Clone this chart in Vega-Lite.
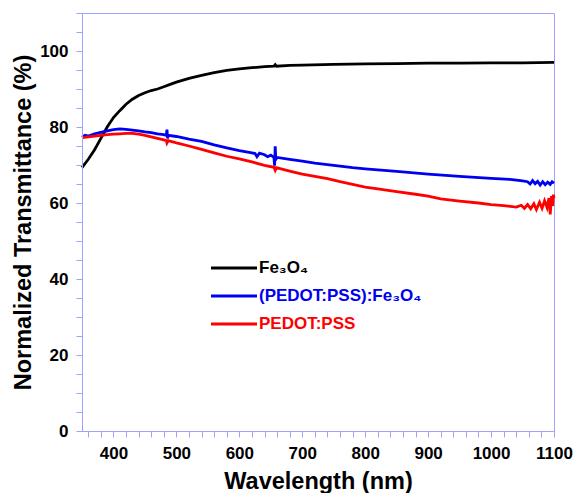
{
  "$schema": "https://vega.github.io/schema/vega-lite/v6.json",
  "width": 472,
  "height": 418,
  "autosize": {"type": "none"},
  "padding": {"left": 82, "top": 13, "right": 21, "bottom": 62},
  "config": {
    "font": "Liberation Sans",
    "view": {"stroke": "#a0a0ff", "strokeWidth": 1},
    "axis": {
      "domainColor": "#a0a0ff",
      "tickColor": "#a0a0ff",
      "grid": false,
      "labelFontWeight": "bold",
      "labelFontSize": 17,
      "labelColor": "#000000",
      "titleFontWeight": "bold",
      "titleFontSize": 23.5,
      "titleColor": "#000000",
      "labelOverlap": false,
      "labelFlush": false
    }
  },
  "data": {"values": [
    {"s":"Fe₃O₄","w":350,"t":69.3},{"s":"Fe₃O₄","w":360,"t":71.5},{"s":"Fe₃O₄","w":370,"t":74},{"s":"Fe₃O₄","w":380,"t":77},{"s":"Fe₃O₄","w":390,"t":80},{"s":"Fe₃O₄","w":400,"t":82.5},{"s":"Fe₃O₄","w":410,"t":84.3},{"s":"Fe₃O₄","w":420,"t":86},{"s":"Fe₃O₄","w":430,"t":87.3},{"s":"Fe₃O₄","w":440,"t":88.3},{"s":"Fe₃O₄","w":450,"t":89},{"s":"Fe₃O₄","w":460,"t":89.6},{"s":"Fe₃O₄","w":470,"t":90},{"s":"Fe₃O₄","w":480,"t":90.6},{"s":"Fe₃O₄","w":490,"t":91.2},{"s":"Fe₃O₄","w":500,"t":91.8},{"s":"Fe₃O₄","w":520,"t":92.8},{"s":"Fe₃O₄","w":540,"t":93.6},{"s":"Fe₃O₄","w":560,"t":94.3},{"s":"Fe₃O₄","w":580,"t":94.9},{"s":"Fe₃O₄","w":600,"t":95.3},{"s":"Fe₃O₄","w":620,"t":95.6},{"s":"Fe₃O₄","w":640,"t":95.9},{"s":"Fe₃O₄","w":655,"t":96.0},{"s":"Fe₃O₄","w":657,"t":96.4},{"s":"Fe₃O₄","w":659,"t":96.0},{"s":"Fe₃O₄","w":680,"t":96.2},{"s":"Fe₃O₄","w":700,"t":96.3},{"s":"Fe₃O₄","w":750,"t":96.5},{"s":"Fe₃O₄","w":800,"t":96.6},{"s":"Fe₃O₄","w":850,"t":96.7},{"s":"Fe₃O₄","w":900,"t":96.8},{"s":"Fe₃O₄","w":950,"t":96.8},{"s":"Fe₃O₄","w":1000,"t":96.9},{"s":"Fe₃O₄","w":1050,"t":96.9},{"s":"Fe₃O₄","w":1100,"t":97.0},

    {"s":"(PEDOT:PSS):Fe₃O₄","w":350,"t":77.3},{"s":"(PEDOT:PSS):Fe₃O₄","w":355,"t":77.8},{"s":"(PEDOT:PSS):Fe₃O₄","w":360,"t":77.6},{"s":"(PEDOT:PSS):Fe₃O₄","w":370,"t":78.2},{"s":"(PEDOT:PSS):Fe₃O₄","w":380,"t":78.6},{"s":"(PEDOT:PSS):Fe₃O₄","w":390,"t":79.0},{"s":"(PEDOT:PSS):Fe₃O₄","w":400,"t":79.3},{"s":"(PEDOT:PSS):Fe₃O₄","w":410,"t":79.5},{"s":"(PEDOT:PSS):Fe₃O₄","w":420,"t":79.4},{"s":"(PEDOT:PSS):Fe₃O₄","w":430,"t":79.2},{"s":"(PEDOT:PSS):Fe₃O₄","w":440,"t":79.0},{"s":"(PEDOT:PSS):Fe₃O₄","w":450,"t":78.7},{"s":"(PEDOT:PSS):Fe₃O₄","w":460,"t":78.5},{"s":"(PEDOT:PSS):Fe₃O₄","w":470,"t":78.2},{"s":"(PEDOT:PSS):Fe₃O₄","w":480,"t":78.0},{"s":"(PEDOT:PSS):Fe₃O₄","w":484,"t":77.8},{"s":"(PEDOT:PSS):Fe₃O₄","w":485,"t":79.3},{"s":"(PEDOT:PSS):Fe₃O₄","w":486,"t":77.0},{"s":"(PEDOT:PSS):Fe₃O₄","w":487,"t":77.8},{"s":"(PEDOT:PSS):Fe₃O₄","w":500,"t":77.5},{"s":"(PEDOT:PSS):Fe₃O₄","w":520,"t":76.8},{"s":"(PEDOT:PSS):Fe₃O₄","w":540,"t":76.2},{"s":"(PEDOT:PSS):Fe₃O₄","w":560,"t":75.3},{"s":"(PEDOT:PSS):Fe₃O₄","w":580,"t":74.5},{"s":"(PEDOT:PSS):Fe₃O₄","w":600,"t":73.8},{"s":"(PEDOT:PSS):Fe₃O₄","w":620,"t":73.2},{"s":"(PEDOT:PSS):Fe₃O₄","w":625,"t":73.0},{"s":"(PEDOT:PSS):Fe₃O₄","w":628,"t":72.2},{"s":"(PEDOT:PSS):Fe₃O₄","w":632,"t":73.1},{"s":"(PEDOT:PSS):Fe₃O₄","w":640,"t":72.7},{"s":"(PEDOT:PSS):Fe₃O₄","w":645,"t":72.2},{"s":"(PEDOT:PSS):Fe₃O₄","w":650,"t":72.6},{"s":"(PEDOT:PSS):Fe₃O₄","w":655,"t":72.0},{"s":"(PEDOT:PSS):Fe₃O₄","w":656,"t":69.8},{"s":"(PEDOT:PSS):Fe₃O₄","w":657,"t":74.9},{"s":"(PEDOT:PSS):Fe₃O₄","w":658,"t":71.5},{"s":"(PEDOT:PSS):Fe₃O₄","w":660,"t":72.0},{"s":"(PEDOT:PSS):Fe₃O₄","w":680,"t":71.5},{"s":"(PEDOT:PSS):Fe₃O₄","w":700,"t":71.0},{"s":"(PEDOT:PSS):Fe₃O₄","w":720,"t":70.5},{"s":"(PEDOT:PSS):Fe₃O₄","w":750,"t":69.9},{"s":"(PEDOT:PSS):Fe₃O₄","w":780,"t":69.3},{"s":"(PEDOT:PSS):Fe₃O₄","w":800,"t":69.0},{"s":"(PEDOT:PSS):Fe₃O₄","w":850,"t":68.3},{"s":"(PEDOT:PSS):Fe₃O₄","w":900,"t":67.6},{"s":"(PEDOT:PSS):Fe₃O₄","w":950,"t":67.0},{"s":"(PEDOT:PSS):Fe₃O₄","w":1000,"t":66.5},{"s":"(PEDOT:PSS):Fe₃O₄","w":1030,"t":66.2},{"s":"(PEDOT:PSS):Fe₃O₄","w":1050,"t":65.8},{"s":"(PEDOT:PSS):Fe₃O₄","w":1058,"t":65.6},{"s":"(PEDOT:PSS):Fe₃O₄","w":1062,"t":65.0},{"s":"(PEDOT:PSS):Fe₃O₄","w":1066,"t":65.9},{"s":"(PEDOT:PSS):Fe₃O₄","w":1070,"t":65.1},{"s":"(PEDOT:PSS):Fe₃O₄","w":1074,"t":65.7},{"s":"(PEDOT:PSS):Fe₃O₄","w":1078,"t":64.7},{"s":"(PEDOT:PSS):Fe₃O₄","w":1082,"t":65.6},{"s":"(PEDOT:PSS):Fe₃O₄","w":1086,"t":64.8},{"s":"(PEDOT:PSS):Fe₃O₄","w":1090,"t":65.5},{"s":"(PEDOT:PSS):Fe₃O₄","w":1094,"t":64.9},{"s":"(PEDOT:PSS):Fe₃O₄","w":1097,"t":65.6},{"s":"(PEDOT:PSS):Fe₃O₄","w":1100,"t":65.2},

    {"s":"PEDOT:PSS","w":350,"t":77.2},{"s":"PEDOT:PSS","w":360,"t":77.4},{"s":"PEDOT:PSS","w":370,"t":77.6},{"s":"PEDOT:PSS","w":380,"t":77.8},{"s":"PEDOT:PSS","w":390,"t":78.0},{"s":"PEDOT:PSS","w":400,"t":78.1},{"s":"PEDOT:PSS","w":410,"t":78.2},{"s":"PEDOT:PSS","w":420,"t":78.3},{"s":"PEDOT:PSS","w":430,"t":78.3},{"s":"PEDOT:PSS","w":440,"t":78.1},{"s":"PEDOT:PSS","w":450,"t":77.8},{"s":"PEDOT:PSS","w":460,"t":77.4},{"s":"PEDOT:PSS","w":470,"t":77.0},{"s":"PEDOT:PSS","w":480,"t":76.6},{"s":"PEDOT:PSS","w":484,"t":76.4},{"s":"PEDOT:PSS","w":485,"t":75.8},{"s":"PEDOT:PSS","w":487,"t":76.4},{"s":"PEDOT:PSS","w":500,"t":75.8},{"s":"PEDOT:PSS","w":520,"t":75.0},{"s":"PEDOT:PSS","w":540,"t":74.1},{"s":"PEDOT:PSS","w":560,"t":73.2},{"s":"PEDOT:PSS","w":580,"t":72.3},{"s":"PEDOT:PSS","w":600,"t":71.6},{"s":"PEDOT:PSS","w":620,"t":70.8},{"s":"PEDOT:PSS","w":640,"t":69.9},{"s":"PEDOT:PSS","w":655,"t":69.4},{"s":"PEDOT:PSS","w":657,"t":68.6},{"s":"PEDOT:PSS","w":659,"t":69.3},{"s":"PEDOT:PSS","w":680,"t":68.4},{"s":"PEDOT:PSS","w":700,"t":67.6},{"s":"PEDOT:PSS","w":720,"t":67.0},{"s":"PEDOT:PSS","w":740,"t":66.4},{"s":"PEDOT:PSS","w":760,"t":65.6},{"s":"PEDOT:PSS","w":780,"t":64.9},{"s":"PEDOT:PSS","w":800,"t":64.2},{"s":"PEDOT:PSS","w":820,"t":63.7},{"s":"PEDOT:PSS","w":850,"t":63.0},{"s":"PEDOT:PSS","w":880,"t":62.3},{"s":"PEDOT:PSS","w":900,"t":61.8},{"s":"PEDOT:PSS","w":920,"t":61.1},{"s":"PEDOT:PSS","w":950,"t":60.5},{"s":"PEDOT:PSS","w":980,"t":60.0},{"s":"PEDOT:PSS","w":1000,"t":59.6},{"s":"PEDOT:PSS","w":1020,"t":59.3},{"s":"PEDOT:PSS","w":1040,"t":58.9},{"s":"PEDOT:PSS","w":1048,"t":59.4},{"s":"PEDOT:PSS","w":1053,"t":58.6},{"s":"PEDOT:PSS","w":1058,"t":59.6},{"s":"PEDOT:PSS","w":1063,"t":58.5},{"s":"PEDOT:PSS","w":1068,"t":59.8},{"s":"PEDOT:PSS","w":1072,"t":58.3},{"s":"PEDOT:PSS","w":1077,"t":60.2},{"s":"PEDOT:PSS","w":1081,"t":58.6},{"s":"PEDOT:PSS","w":1085,"t":60.6},{"s":"PEDOT:PSS","w":1089,"t":58.8},{"s":"PEDOT:PSS","w":1092,"t":61.3},{"s":"PEDOT:PSS","w":1094,"t":57.0},{"s":"PEDOT:PSS","w":1096,"t":61.8},{"s":"PEDOT:PSS","w":1098,"t":59.2},{"s":"PEDOT:PSS","w":1099,"t":62.2},{"s":"PEDOT:PSS","w":1100,"t":61.3}
  ]},
  "mark": {"type": "line", "strokeWidth": 2.8},
  "encoding": {
    "x": {
      "field": "w", "type": "quantitative",
      "scale": {"domain": [350, 1100], "nice": false, "zero": false},
      "axis": {
        "title": "Wavelength (nm)",
        "format": "d",
        "values": [360,380,400,420,440,460,480,500,520,540,560,580,600,620,640,660,680,700,720,740,760,780,800,820,840,860,880,900,920,940,960,980,1000,1020,1040,1060,1080,1100],
        "labelExpr": "datum.value % 100 === 0 ? datum.label : ''",
        "ticks": true,
        "tickColor": "#a0a0ff",
        "tickOpacity": 1,
        "tickWidth": 1,
        "tickSize": 6,
        "zindex": 1,
        "labelPadding": 8,
        "titlePadding": 8
      }
    },
    "y": {
      "field": "t", "type": "quantitative",
      "scale": {"domain": [0, 110], "nice": false},
      "axis": {
        "title": "Normalized Transmittance (%)",
        "values": [0,5,10,15,20,25,30,35,40,45,50,55,60,65,70,75,80,85,90,95,100,105,110],
        "labelExpr": "datum.value % 20 === 0 && datum.value <= 100 ? datum.label : ''",
        "ticks": true,
        "tickColor": "#a0a0ff",
        "tickOpacity": 1,
        "tickWidth": 1,
        "tickSize": 6,
        "zindex": 1,
        "labelPadding": 8,
        "titlePadding": 4
      }
    },
    "color": {
      "field": "s", "type": "nominal",
      "scale": {"domain": ["Fe₃O₄", "(PEDOT:PSS):Fe₃O₄", "PEDOT:PSS"], "range": ["#000000", "#0000f0", "#ff0000"]},
      "legend": {
        "title": null,
        "orient": "none",
        "legendX": 139,
        "legendY": 242,
        "padding": 0,
        "symbolType": "M-2,0H2",
        "symbolSize": 529,
        "symbolStrokeWidth": 3,
        "labelFontWeight": "bold",
        "labelFontSize": 17,
        "labelLimit": 300,
        "labelOffset": 12,
        "rowPadding": 7,
        "encode": {
          "labels": {"update": {"fill": {"scale": "color", "field": "value"}}}
        }
      }
    }
  }
}
